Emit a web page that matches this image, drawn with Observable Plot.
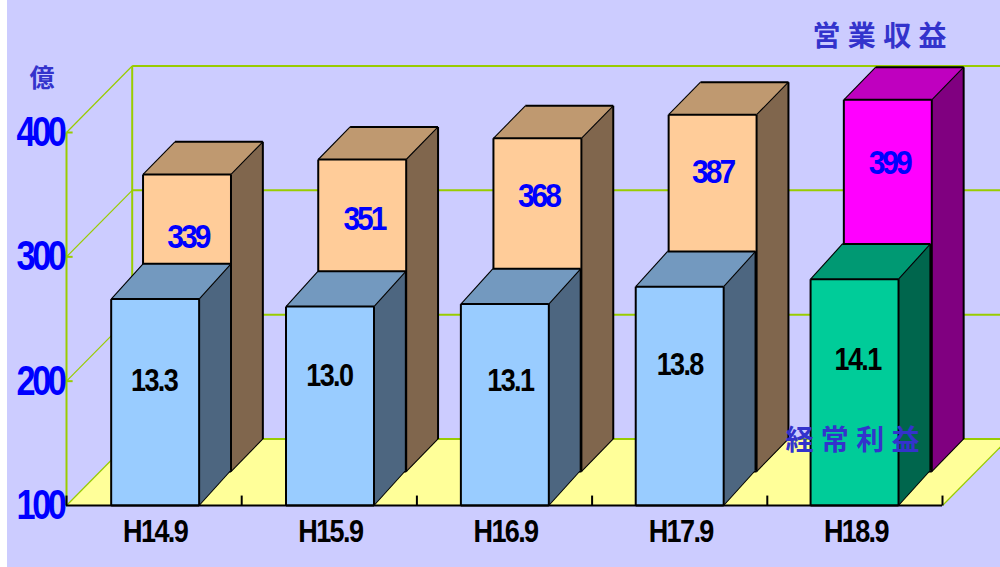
<!DOCTYPE html>
<html><head><meta charset="utf-8">
<script src="https://cdn.jsdelivr.net/npm/d3@7"></script>
<script src="https://cdn.jsdelivr.net/npm/@observablehq/plot@0.6"></script>
<style>html,body{margin:0;padding:0;background:#fff;overflow:hidden}svg{display:block;margin-left:7px}</style>
</head><body><div id="chart"></div>
<script>
const categories = ["H14.9","H15.9","H16.9","H17.9","H18.9"];
const revenue = [339,351,368,387,399];          // 営業収益 (億)
const ordinaryProfit = [13.3,13.0,13.1,13.8,14.1]; // 経常利益 (億)
const profitScale = 20;                          // profit bars are drawn at ×20 on the axis
const yTicks = [100,200,300,400];

// layout only (value / category units)
const DX = 0.375, DY = 53.5, BAR_W = 0.502, BAR_X = 0.255;
const revDrop = [50,47.5,46,46,50.7], revShift = [0.005,0.01,0.006,0,0.008];
const proDrop = [66,56,62,63,65], proShift = [0,0,0.033,0,0.015];

const LEFT_STYLE = {fontFamily:"Liberation Sans, sans-serif", fontWeight:"bold"};
const CJK = {fontFamily:"Noto Sans CJK JP", fontWeight:"bold", fill:"#3333cc", lineAnchor:"middle", textAnchor:"start", frameAnchor:"top-left"};

const px = (c,d) => c + d*DX, py = (v,d) => v + d*DY;
const GRID = "#99cc00";

// xd: depth range along x, yd: depth range along y
function bar(i, step, value, xd, yd, col) {
  const l = i*step + BAR_X, r = l + BAR_W, base = 100;
  const P = (c,v,k) => ({x:px(c,xd[k]), y:py(v,yd[k])});
  const faces = [
    [P(l,base,0),P(r,base,0),P(r,value,0),P(l,value,0)].map(p=>({...p,f:col[0],id:"front"})),
    [P(l,value,0),P(r,value,0),P(r,value,1),P(l,value,1)].map(p=>({...p,f:col[1],id:"top"})),
    [P(r,base,0),P(r,base,1),P(r,value,1),P(r,value,0)].map(p=>({...p,f:col[2],id:"side"}))
  ].flat();
  const E = (a,b) => ({x1:a.x,y1:a.y,x2:b.x,y2:b.y});
  const straight = [
    E(P(l,base,0),P(l,value,0)),E(P(r,base,0),P(r,value,0)),E(P(l,value,0),P(r,value,0)),
    E(P(r,base,1),P(r,value,1)),E(P(l,value,1),P(r,value,1)),E(P(l,base,0),P(r,base,0))
  ];
  const diag = [E(P(l,value,0),P(l,value,1)),E(P(r,value,0),P(r,value,1)),E(P(r,base,0),P(r,base,1))];
  return [
    Plot.line(faces,{x:"x",y:"y",z:"id",fill:"f",stroke:null,curve:"linear"}),
    Plot.link(straight,{x1:"x1",y1:"y1",x2:"x2",y2:"y2",stroke:"black",strokeWidth:2}),
    Plot.link(diag,{x1:"x1",y1:"y1",x2:"x2",y2:"y2",stroke:"black",strokeWidth:1.1})
  ];
}

const revColor = i => i===4 ? ["#ff00ff","#bf00bf","#800080"] : ["#ffcc99","#bf9970","#80664d"];
const proColor = i => i===4 ? ["#00cc99","#009973","#00664d"] : ["#99ccff","#7399bf","#4d6680"];

const floor = [{x:0,y:100},{x:5,y:100},{x:px(5,1),y:py(100,1)},{x:px(0,1),y:py(100,1)}];
const idx = d3.range(categories.length);

const chart = Plot.plot({
  width:993, height:567,
  marginLeft:59, marginRight:58, marginTop:132, marginBottom:62,
  style:{background:"#ccccff"},
  x:{domain:[0,5]}, y:{domain:[100,400]}, color:{type:"identity"},
  marks:[
    Plot.line(floor,{x:"x",y:"y",fill:"#ffff99",stroke:null}),
    // back wall
    Plot.link(yTicks,{x1:px(0,1),x2:px(5,1),y1:d=>py(d,1),y2:d=>py(d,1),stroke:GRID,strokeWidth:2}),
    Plot.link([0],{x1:px(0,1),x2:px(0,1),y1:py(100,1),y2:py(400,1),stroke:GRID,strokeWidth:2}),
    // side wall
    Plot.link([0],{x1:0,x2:0,y1:100,y2:400,stroke:GRID,strokeWidth:2}),
    Plot.link(yTicks,{x1:0,x2:px(0,1),y1:d=>d,y2:d=>py(d,1),stroke:GRID,strokeWidth:1.2}),
    Plot.link(yTicks.slice(1),{x1:0,x2:0.035,y1:d=>d,y2:d=>d,stroke:GRID,strokeWidth:2}),
    Plot.link([0],{x1:5,x2:px(5,1),y1:100,y2:py(100,1),stroke:GRID,strokeWidth:1.2}),
    // bars
    ...idx.flatMap(i=>bar(i,1,revenue[i],[0.485,0.97],[0.51,1],revColor(i))),
    ...idx.flatMap(i=>bar(i,0.998,ordinaryProfit[i]*profitScale,[0,0.485],[0,0.53],proColor(i))),
    // baseline and ticks
    Plot.ruleY([100],{stroke:"black",strokeWidth:2}),
    Plot.link(d3.range(0,6),{x1:d=>d,x2:d=>d,y1:100,y2:108,stroke:"black",strokeWidth:2}),
    // axes
    Plot.axisY({ticks:yTicks,tickSize:0,tickPadding:3,label:null,fontSize:42,fill:"#0000ff",...LEFT_STYLE}),
    Plot.axisX({ticks:idx.map(i=>i+0.5),tickFormat:d=>categories[d-0.5],tickSize:0,tickPadding:14,label:null,fontSize:32,fill:"black",dx:1,...LEFT_STYLE}),
    // value labels
    Plot.text(idx,{x:i=>px(i+0.5+revShift[i],0.5),y:i=>py(revenue[i],0.5)-revDrop[i],text:i=>String(revenue[i]),fill:"#0000ff",fontSize:33,...LEFT_STYLE}),
    Plot.text(idx,{x:i=>i+0.5+proShift[i],y:i=>ordinaryProfit[i]*profitScale-proDrop[i],text:i=>ordinaryProfit[i].toFixed(1),fill:"black",fontSize:32,...LEFT_STYLE}),
    // series names and unit
    Plot.text(["営業収益"],{...CJK,text:d=>d,fontSize:28,dx:746,dy:-95}),
    Plot.text(["経常利益"],{...CJK,text:d=>d,fontSize:28,dx:719,dy:309}),
    Plot.text(["億"],{...CJK,text:d=>d,fontSize:25,dx:-37,dy:-54})
  ]
});
document.getElementById("chart").append(chart);

// squeeze the condensed labels, keep them as real text
const squeeze = (t,len,ls) => {t.style.letterSpacing=ls;t.setAttribute("textLength",len);t.setAttribute("lengthAdjust","spacingAndGlyphs");};
chart.querySelectorAll("text").forEach(t=>{
  const s=t.textContent;
  if(/^[1-4]00$/.test(s)) squeeze(t,47,"-0.1em");
  else if(/^\d{3}$/.test(s)) squeeze(t,41,"-0.1em");
  else if(/^\d+\.\d$/.test(s)) squeeze(t,46,"-0.06em");
  else if(/^H/.test(s)) squeeze(t,64,"-0.06em");
  else if(s.length===4) {t.setAttribute("textLength",134);t.setAttribute("lengthAdjust","spacing");}
});
</script></body></html>
